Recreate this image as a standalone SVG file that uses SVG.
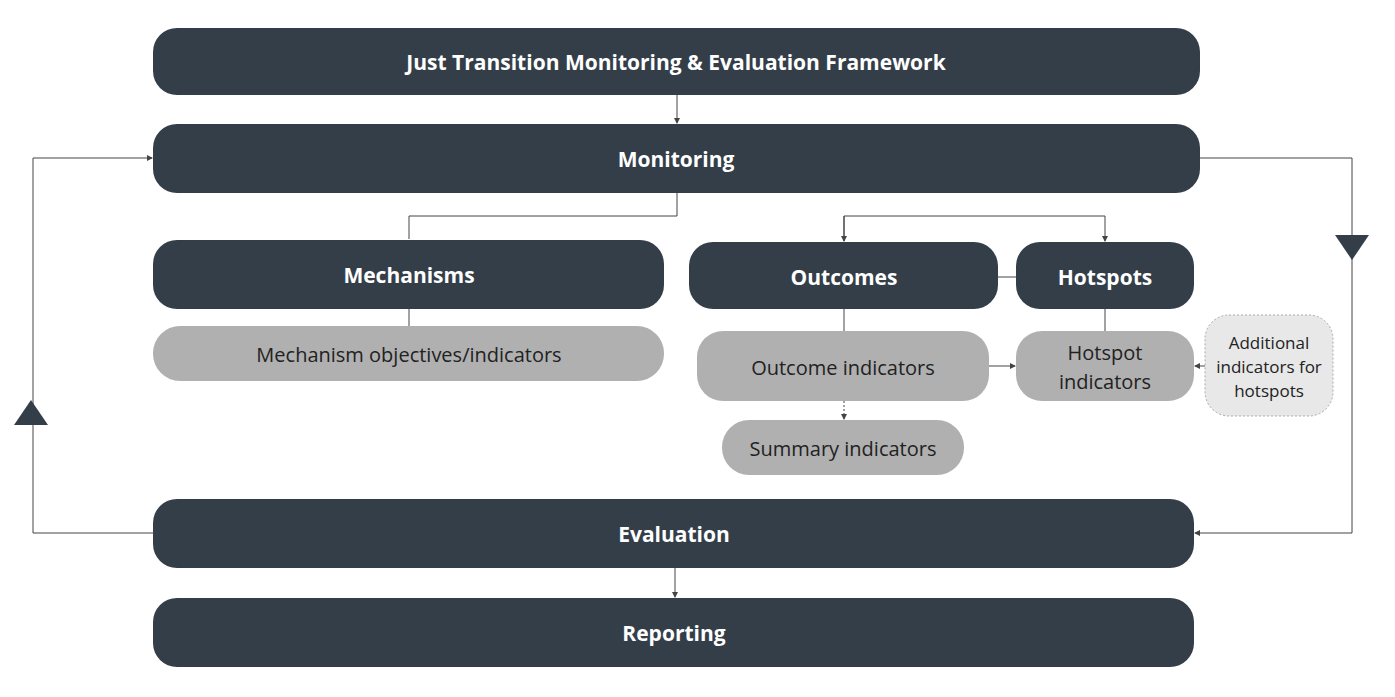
<svg xmlns="http://www.w3.org/2000/svg" width="1395" height="697" viewBox="0 0 1395 697">
<style>
.d{fill:#333e49}.g{fill:#b0b0b0}
.t{font-family:"Open Sans","Noto Sans",sans-serif;text-anchor:middle;dominant-baseline:central}
.tb{fill:#fff;font-weight:bold;font-size:21px}
.tg{fill:#222;font-size:20px}
.c{fill:none;stroke:#444;stroke-width:1}
</style>
<defs><marker id="a" markerWidth="6" markerHeight="6" refX="5" refY="3" orient="auto" markerUnits="userSpaceOnUse"><path d="M0,0L6,3L0,6z" fill="#444"/></marker></defs>
<rect width="1395" height="697" fill="#fff"/>
<g id="connectors">
<path class="c" d="M677,95V123" marker-end="url(#a)"/>
<path class="c" d="M677,193V216H409V239M844,216V241M844,216H1105V241" marker-end="url(#a)"/>
<path class="c" d="M844,216V241" marker-end="url(#a)"/>
<path class="c" d="M409,309V326M844,309V331M1105,309V331M998,277H1016"/>
<path class="c" d="M989,366H1015" marker-end="url(#a)"/>
<path class="c" d="M1205,366H1195" marker-end="url(#a)"/>
<path class="c" d="M844,401V419" stroke-dasharray="2,2" marker-end="url(#a)"/>
<path class="c" d="M675,568V597" marker-end="url(#a)"/>
<path class="c" d="M153,533H33V158H152" marker-end="url(#a)"/>
<path class="c" d="M1200,158H1352V533H1195" marker-end="url(#a)"/>
<path d="M31,400L48,425H14z" fill="#333e49"/>
<path d="M1352,260L1335,235H1369z" fill="#333e49"/>
</g>
<g id="title"><rect class="d" x="153" y="28" width="1047" height="67" rx="24"/><text class="t tb" x="676" y="62">Just Transition Monitoring &amp; Evaluation Framework</text></g>
<g id="monitoring"><rect class="d" x="153" y="124" width="1047" height="69" rx="24"/><text class="t tb" x="676" y="159">Monitoring</text></g>
<g id="mechanisms"><rect class="d" x="153" y="240" width="511" height="69" rx="24"/><text class="t tb" x="409" y="275">Mechanisms</text></g>
<g id="outcomes"><rect class="d" x="689" y="242" width="309" height="67" rx="24"/><text class="t tb" x="844" y="277">Outcomes</text></g>
<g id="hotspots"><rect class="d" x="1016" y="242" width="178" height="67" rx="24"/><text class="t tb" x="1105" y="277">Hotspots</text></g>
<g id="mech-ind"><rect class="g" x="153" y="326" width="511" height="55" rx="27"/><text class="t tg" x="409" y="354">Mechanism objectives/indicators</text></g>
<g id="out-ind"><rect class="g" x="697" y="331" width="292" height="70" rx="26"/><text class="t tg" x="843" y="367">Outcome indicators</text></g>
<g id="hot-ind"><rect class="g" x="1016" y="331" width="178" height="70" rx="26"/><text class="t tg" x="1105" y="352">Hotspot</text><text class="t tg" x="1105" y="381">indicators</text></g>
<g id="additional"><rect x="1205" y="315" width="128" height="101" rx="24" fill="#e8e8e8" stroke="#aaa" stroke-dasharray="2,2"/><text class="t" x="1269" y="342" font-size="17" fill="#222">Additional</text><text class="t" x="1269" y="366" font-size="17" fill="#222">indicators for</text><text class="t" x="1269" y="390" font-size="17" fill="#222">hotspots</text></g>
<g id="summary"><rect class="g" x="722" y="420" width="242" height="55" rx="27"/><text class="t tg" x="843" y="448">Summary indicators</text></g>
<g id="evaluation"><rect class="d" x="153" y="499" width="1041" height="69" rx="24"/><text class="t tb" x="674" y="534">Evaluation</text></g>
<g id="reporting"><rect class="d" x="153" y="598" width="1041" height="69" rx="24"/><text class="t tb" x="674" y="633">Reporting</text></g>
</svg>
